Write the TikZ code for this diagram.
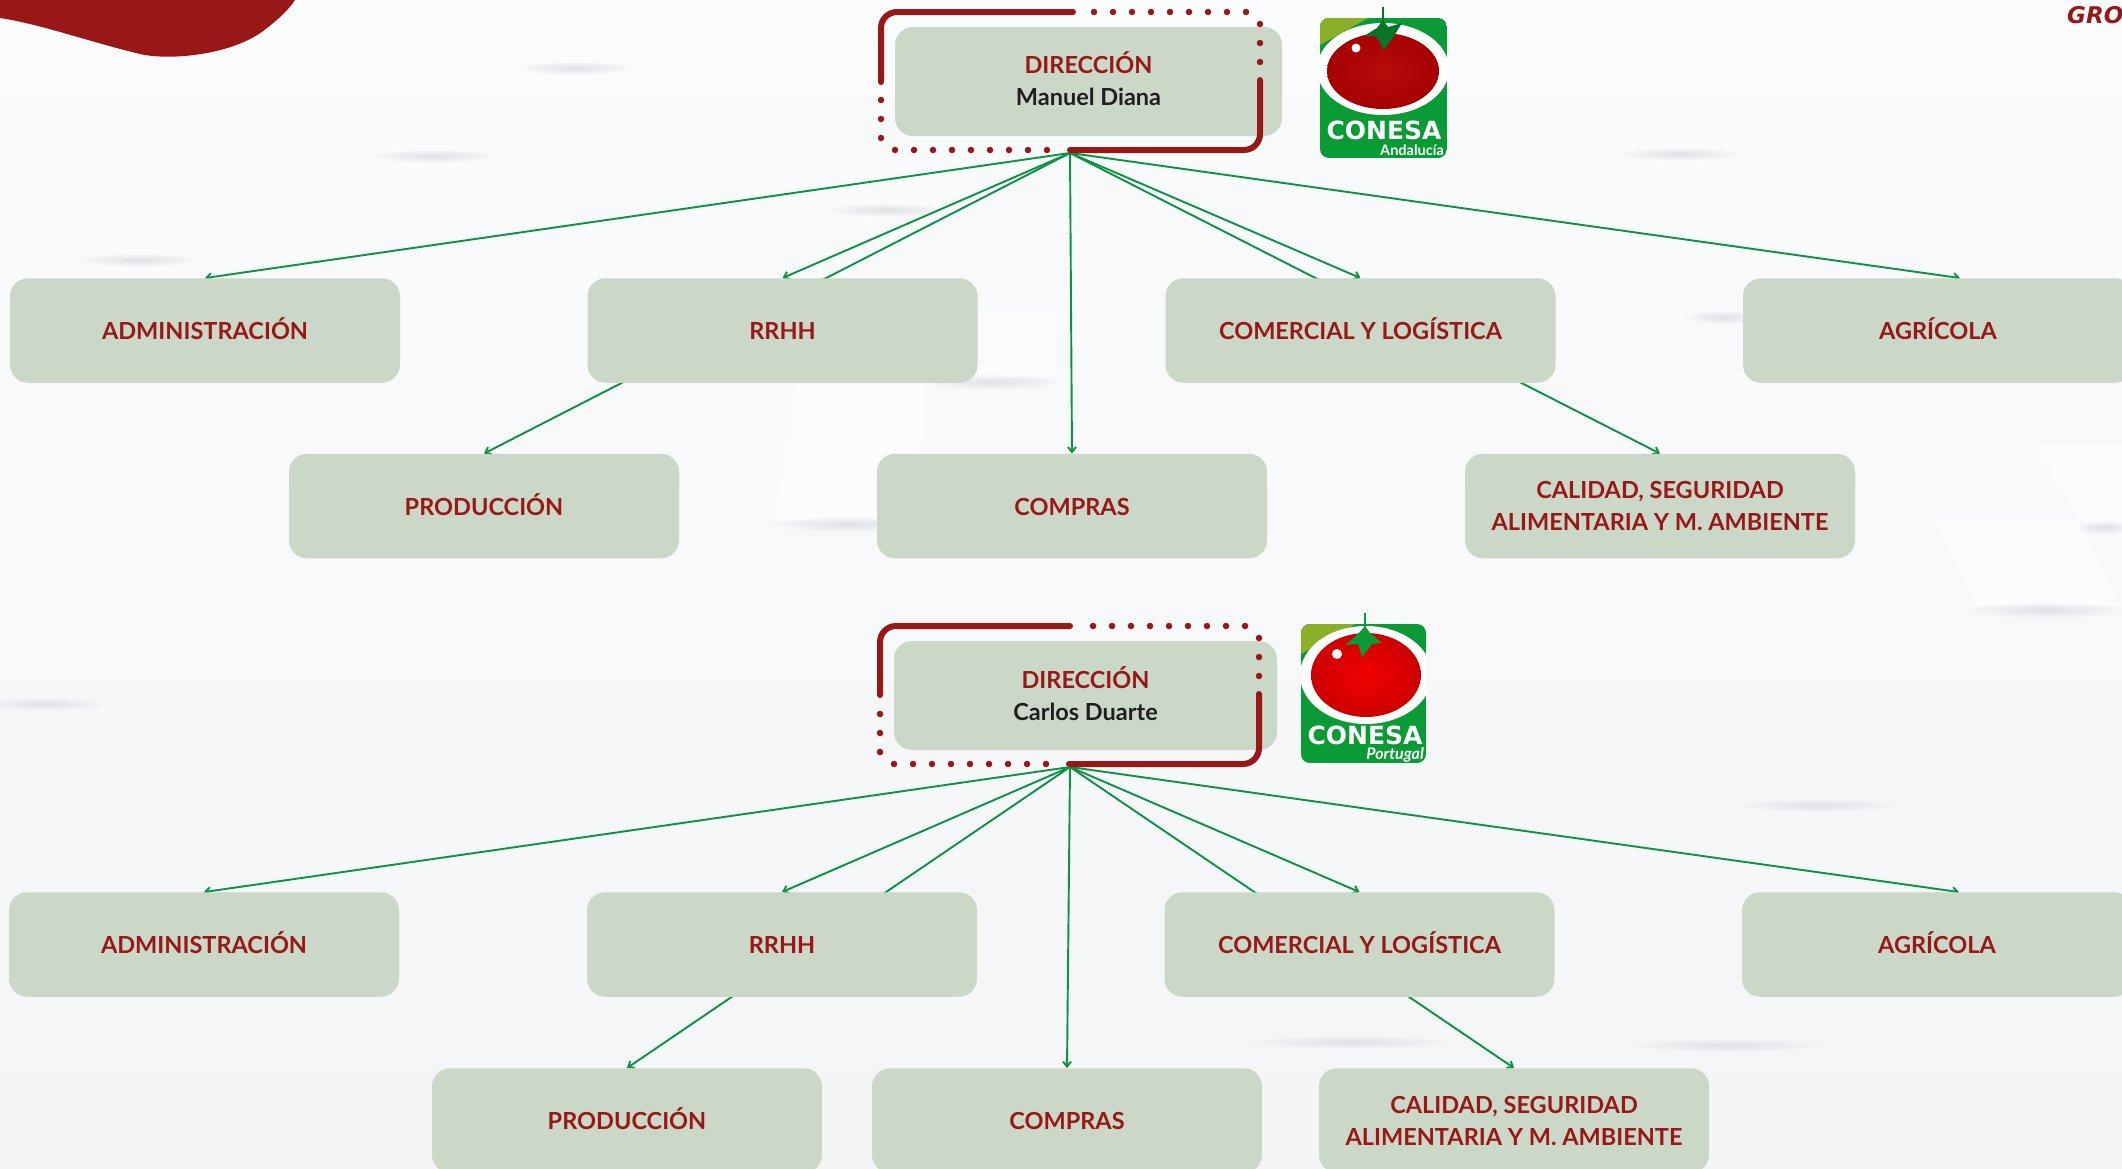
\documentclass[tikz,border=0pt]{standalone}
\usepackage{fontspec}
\setmainfont{Lato}
\newfontfamily\logofont{DejaVu Sans}
\usetikzlibrary{arrows.meta, backgrounds, fadings}

\definecolor{pagetop}{HTML}{FAFBFC}
\definecolor{pagebottom}{HTML}{F4F5F7}
\definecolor{tileshade}{HTML}{DFE1E6}
\definecolor{boxsage}{HTML}{CCD8C7}
\definecolor{wine}{HTML}{981818}
\definecolor{linegreen}{HTML}{0B9243}
\definecolor{logogreen}{HTML}{0A9A36}
\definecolor{logoolive}{HTML}{8CAF2A}

\tikzfading[name=softbar, inner color=transparent!0, outer color=transparent!100]

\tikzset{
	areabox/.style={fill=boxsage, rounded corners=18pt, minimum width=390pt, minimum height=104.5pt, inner sep=0pt,
		align=center, text=wine, font=\fontsize{23.5}{32}\selectfont\bfseries},
	areaone/.style={areabox, text height=18pt, text depth=0pt},
	areatext/.style={align=center, inner sep=0pt, text=wine, font=\fontsize{23.5}{32}\selectfont\bfseries},
	link/.style={draw=linegreen, line width=1.9pt, -{Straight Barb[length=5pt,width=8pt]}},
	framesolid/.style={draw=wine, line width=6pt, line cap=round, rounded corners=16pt},
	framedots/.style={draw=wine, line width=6.5pt, line cap=round, dash pattern=on 0pt off 19pt},
	tileedge/.style={fill=tileshade, path fading=softbar},
	tilelight/.style={fill=white, fill opacity=0.65},
}

\begin{document}
\begin{tikzpicture}[x=1pt, y=-1pt]
	% Fix the page and clip everything to it
	\path[use as bounding box, clip] (0,0) rectangle (2122,1168);

	% Draw the first group of boxes (Andalucia)
	\node[areabox, minimum width=387pt, minimum height=109pt] (dir1) at (1088.5, 81.5) {};
	\node[areatext] (dirtext1) at (1088.5, 78.5) {DIRECCIÓN\\{\color{black!88}\fontsize{23.5}{32}\selectfont Manuel Diana}};
	\node[areaone] (admin1) at (205, 330.5) {ADMINISTRACIÓN};
	\node[areaone] (rrhh1) at (782.5, 330.5) {RRHH};
	\node[areaone] (comercial1) at (1360.5, 330.5) {COMERCIAL Y LOGÍSTICA};
	\node[areaone] (agricola1) at (1938, 330.5) {AGRÍCOLA};
	\node[areaone] (produccion1) at (484, 506) {PRODUCCIÓN};
	\node[areaone] (compras1) at (1072, 506) {COMPRAS};
	\node[areabox] (calidad1) at (1660, 506) {CALIDAD, SEGURIDAD\\ALIMENTARIA Y M. AMBIENTE};
	\coordinate (root1) at (1070, 153);

	% Draw the second group of boxes (Portugal)
	\node[areabox, minimum width=383pt, minimum height=109pt] (dir2) at (1085.5, 695.5) {};
	\node[areatext] (dirtext2) at (1085.5, 693.5) {DIRECCIÓN\\{\color{black!88}\fontsize{23.5}{32}\selectfont Carlos Duarte}};
	\node[areaone] (admin2) at (204, 944.5) {ADMINISTRACIÓN};
	\node[areaone] (rrhh2) at (782, 944.5) {RRHH};
	\node[areaone] (comercial2) at (1359.5, 944.5) {COMERCIAL Y LOGÍSTICA};
	\node[areaone] (agricola2) at (1937, 944.5) {AGRÍCOLA};
	\node[areaone] (produccion2) at (627, 1120.5) {PRODUCCIÓN};
	\node[areaone] (compras2) at (1067, 1120.5) {COMPRAS};
	\node[areabox] (calidad2) at (1514, 1120.5) {CALIDAD, SEGURIDAD\\ALIMENTARIA Y M. AMBIENTE};
	\coordinate (root2) at (1070, 767);

	\begin{pgfonlayer}{background}
		% Page colour and the faint tiles behind it
		\shade[top color=pagetop, bottom color=pagebottom] (0,0) rectangle (2122,1168);
		\fill[tilelight] (785,445) -- (920,445) -- (915,521) -- (775,521) -- cycle;
		\fill[tilelight] (795,385) -- (925,385) -- (923,445) -- (790,445) -- cycle;
		\fill[tilelight] (935,313) -- (1057,313) -- (1057,377) -- (935,377) -- cycle;
		\fill[tilelight] (1933,520) -- (2079,520) -- (2119,606) -- (1976,606) -- cycle;
		\fill[tilelight] (2033,445) -- (2122,445) -- (2122,524) -- (2083,524) -- cycle;
		\fill[tileedge] (925,374) rectangle (1062,390);
		\fill[tileedge] (770,516) rectangle (925,532);
		\fill[tileedge] (1965,602) rectangle (2128,618);
		\fill[tileedge] (2075,520) rectangle (2135,534);
		\fill[tileedge] (1685,310) rectangle (1760,324);
		\fill[tileedge] (1615,147) rectangle (1745,161);
		\fill[tileedge] (365,149) rectangle (500,163);
		\fill[tileedge] (75,253) rectangle (202,267);
		\fill[tileedge] (515,61) rectangle (635,75);
		\fill[tileedge] (820,203) rectangle (952,217);
		\fill[tileedge] (-20,697) rectangle (108,711);
		\fill[tileedge] (1732,798) rectangle (1902,812);
		\fill[tileedge] (1245,1035) rectangle (1455,1049);
		\fill[tileedge] (1625,1038) rectangle (1826,1052);

		% Draw the connectors, they run behind the boxes
		\draw[link] (root1) -- (admin1.north);
		\draw[link] (root1) -- (rrhh1.north);
		\draw[link] (root1) -- (produccion1.north);
		\draw[link] (root1) -- (compras1.north);
		\draw[link] (root1) -- (comercial1.north);
		\draw[link] (root1) -- (calidad1.north);
		\draw[link] (root1) -- ([xshift=22pt]agricola1.north);

		\draw[link] (root2) -- (admin2.north);
		\draw[link] (root2) -- (rrhh2.north);
		\draw[link] (root2) -- (produccion2.north);
		\draw[link] (root2) -- (compras2.north);
		\draw[link] (root2) -- (comercial2.north);
		\draw[link] (root2) -- (calidad2.north);
		\draw[link] (root2) -- ([xshift=22pt]agricola2.north);
	\end{pgfonlayer}

	% Draw the red blob in the corner
	\fill[wine] (0,0) -- (0,18) .. controls (40,24) and (90,42) .. (140,54) .. controls (170,61) and (235,55) .. (267,28) .. controls (280,18) and (290,8) .. (295,0) -- cycle;

	% Draw the word in the other corner
	\node[anchor=base west, text=wine, font=\logofont\fontsize{23}{23}\selectfont\bfseries\itshape, inner sep=0pt] (brand) at (2067, 23) {GRO};

	% Draw the frame around the first box
	\draw[framesolid] (1073,12) -- (881,12) -- (881,82);
	\draw[framesolid] (1260,80) -- (1260,150) -- (1070,150);
	\draw[framedots] (1094,12) -- (1250,12);
	\draw[framedots] (1260,24) -- (1260,66);
	\draw[framedots] (1047,150) -- (890,150);
	\draw[framedots] (881,100) -- (881,142);

	% Draw the frame around the second box
	\draw[framesolid] (1070,626) -- (880,626) -- (880,695);
	\draw[framesolid] (1259,694) -- (1259,764) -- (1069,764);
	\draw[framedots] (1093,626) -- (1250,626);
	\draw[framedots] (1259,638) -- (1259,680);
	\draw[framedots] (1046,764) -- (890,764);
	\draw[framedots] (880,714) -- (880,756);

	% Draw the first logo
	\begin{scope}
		\path[clip, rounded corners=9pt] (1320,18) rectangle (1447,158);
		\fill[logogreen] (1320,18) rectangle (1447,158);
		\fill[logoolive] (1320,18) -- (1368,18) -- (1320,45) -- cycle;
		\fill[white] (1383,69) ellipse (66 and 46);
		\shade[inner color=red!70!black!95, outer color=red!65!black] (1383,71) ellipse (56 and 38);
		\fill[white] (1356,48) circle (4.5);
	\end{scope}
	\fill[logogreen!75!black] (1383,20) -- (1388,27) -- (1402,23) -- (1394,36) -- (1384,50) -- (1376,36) -- (1364,36) -- (1377,28) -- cycle;
	\draw[logogreen!75!black, line width=1.5pt] (1383,7) -- (1383,30);
	\node[text=white, font=\logofont\fontsize{25}{25}\selectfont\bfseries, inner sep=0pt] (logoname1) at (1384, 130) {CONESA};
	\node[text=white, anchor=east, font=\fontsize{14.5}{14.5}\selectfont\bfseries, inner sep=0pt] (logosub1) at (1444, 150) {Andalucía};

	% Draw the second logo
	\begin{scope}
		\path[clip, rounded corners=9pt] (1301,624) rectangle (1426,763);
		\fill[logogreen] (1301,624) rectangle (1426,763);
		\fill[logoolive] (1301,624) -- (1355,624) -- (1301,654) -- cycle;
		\fill[white] (1366,675) ellipse (66 and 49);
		\shade[inner color=red!95!black, outer color=red!80!black] (1366,675) ellipse (55 and 42);
		\fill[white] (1337,654) circle (5);
	\end{scope}
	\fill[logogreen] (1365,626) -- (1370,633) -- (1382,643) -- (1372,644) -- (1362,657) -- (1358,644) -- (1345,645) -- (1358,634) -- cycle;
	\draw[logogreen, line width=1.5pt] (1365,613) -- (1365,632);
	\node[text=white, font=\logofont\fontsize{25}{25}\selectfont\bfseries, inner sep=0pt] (logoname2) at (1365, 735) {CONESA};
	\node[text=white, anchor=east, font=\fontsize{16}{16}\selectfont\bfseries\itshape, inner sep=0pt] (logosub2) at (1424, 755) {Portugal};
\end{tikzpicture}
\end{document}
